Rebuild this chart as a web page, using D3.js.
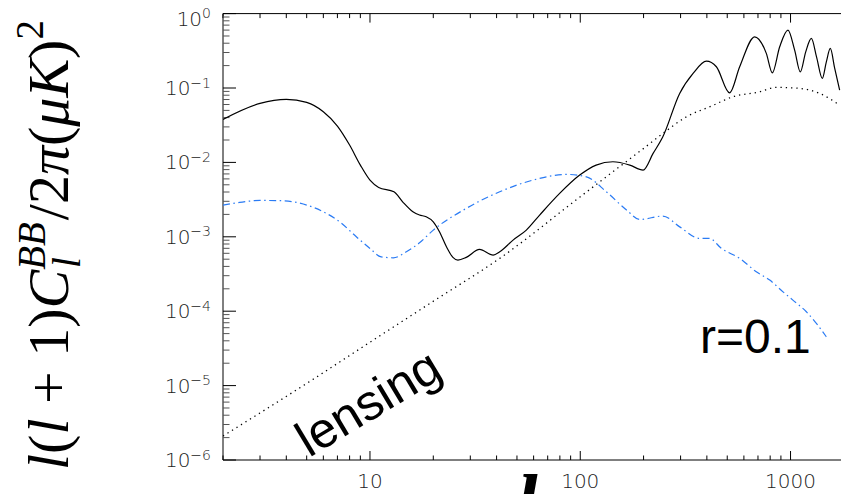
<!DOCTYPE html>
<html>
<head>
<meta charset="utf-8">
<script src="https://cdn.jsdelivr.net/npm/d3@7"></script>
<style>
  html, body { margin: 0; padding: 0; background: #fff; }
  svg { display: block; }
  .tick-label { font-family: "DejaVu Sans", sans-serif; font-weight: 300; fill: #222; }
</style>
</head>
<body>
<div id="chart"></div>
<script>
// Multipole of the total B-mode spectrum (primordial r=0.1 + lensing)
const ellTotal = [2, 3, 4, 5, 6, 7, 8, 9, 10, 11, 13, 14.3, 16, 17.2, 18.5, 20, 21.4, 23.1, 24.8, 26.2,
  28.7, 33.2, 38.5, 41.4, 47.9, 55.4, 64.1, 79.8, 99.4, 119, 143, 172, 199, 222, 247, 297, 344, 398,
  444, 513, 573, 675, 767, 819, 888, 972, 1046, 1113, 1180, 1256, 1330, 1416, 1479, 1546, 1621, 1712];
const clTotal = [0.0379, 0.0621, 0.0703, 0.064, 0.0479, 0.0308, 0.0171, 0.0092, 0.00578, 0.00461,
  0.00403, 0.00295, 0.00217, 0.00196, 0.00186, 0.00159, 0.00117, 0.000734, 0.000529, 0.000486,
  0.000529, 0.000677, 0.000568, 0.000629, 0.000903, 0.00123, 0.00196, 0.00383, 0.00675, 0.0092,
  0.0102, 0.0092, 0.00788, 0.0132, 0.0221, 0.0846, 0.157, 0.230, 0.193, 0.0862, 0.193, 0.488, 0.292,
  0.160, 0.358, 0.600, 0.323, 0.165, 0.304, 0.464, 0.26, 0.135, 0.223, 0.340, 0.185, 0.0937];

// Primordial tensor B-modes, r = 0.1
const ellTensor = [2, 2.4, 3, 3.86, 5, 6, 7.18, 8.61, 10, 11.3, 12.9, 14.9, 17.2, 20, 28.7, 41.4, 59.6,
  85.9, 107, 133, 166, 192, 247, 297, 370, 412, 469, 573, 687, 796, 921, 1026, 1189, 1327, 1479];
const clTensor = [2.67e-3, 2.90e-3, 3.08e-3, 3.05e-3, 2.67e-3, 2.17e-3, 1.59e-3, 1.0e-3, 6.98e-4,
  5.38e-4, 5.22e-4, 6.29e-4, 8.30e-4, 1.23e-3, 2.41e-3, 4.03e-3, 5.78e-3, 6.90e-3, 6.40e-3, 4.03e-3,
  2.29e-3, 1.71e-3, 1.90e-3, 1.36e-3, 9.51e-4, 9.51e-4, 6.98e-4, 5.13e-4, 3.39e-4, 2.62e-4, 1.82e-4,
  1.41e-4, 9.82e-5, 6.85e-5, 4.53e-5];

// Lensing-induced B-modes
const ellLensing = [2, 5, 10, 20, 41.4, 99.4, 150, 200, 247, 320, 420, 532, 713, 856, 1104, 1374, 1712];
const clLensing = [2.1e-6, 1.07e-5, 3.83e-5, 1.36e-4, 5.13e-4, 3.41e-3, 8.3e-3, 0.0154, 0.0245, 0.041,
  0.0571, 0.0762, 0.0889, 0.102, 0.0988, 0.0846, 0.0589];

const xTickValues = [10, 100, 1000];
const xTickLabels = ["10", "100", "1000"];
const yTickExponents = [0, -1, -2, -3, -4, -5, -6];

const W = 841, H = 494;
const plotLeft = 223, plotRight = 840.6, plotTop = 13.6, plotBottom = 460;

const svg = d3.select("#chart").append("svg")
  .attr("width", W).attr("height", H)
  .attr("viewBox", `0 0 ${W} ${H}`);

const x = d3.scaleLog().domain([2, 1730]).range([plotLeft, plotRight]);
const y = d3.scaleLog().domain([1e-6, 1]).range([plotBottom, plotTop]);

svg.append("defs").append("clipPath").attr("id", "plot-clip")
  .append("rect").attr("x", plotLeft).attr("y", plotTop)
  .attr("width", W - plotLeft).attr("height", plotBottom - plotTop);

// minor + major ticks for each decade
function decadeTicks(lo, hi) {
  const out = [];
  for (let e = Math.floor(Math.log10(lo)); e <= Math.ceil(Math.log10(hi)); e++) {
    for (let m = 1; m <= 9; m++) {
      const v = m * Math.pow(10, e);
      if (v >= lo * 0.9999 && v <= hi * 1.0001) out.push({ v, major: m === 1 });
    }
  }
  return out;
}

const axes = svg.append("g").attr("stroke", "#000").attr("stroke-width", 1).attr("fill", "none");

// Frame lines
axes.append("line").attr("x1", plotLeft).attr("x2", plotLeft).attr("y1", plotTop).attr("y2", plotBottom);
axes.append("line").attr("x1", plotLeft).attr("x2", W).attr("y1", plotBottom).attr("y2", plotBottom);
axes.append("line").attr("x1", plotLeft).attr("x2", W).attr("y1", plotTop).attr("y2", plotTop);

// x ticks (bottom, pointing up; top, pointing down)
decadeTicks(2, 1730).forEach(t => {
  const px = x(t.v);
  const len = t.major ? 9 : 4.5;
  axes.append("line").attr("x1", px).attr("x2", px).attr("y1", plotBottom).attr("y2", plotBottom - len);
  axes.append("line").attr("x1", px).attr("x2", px).attr("y1", plotTop).attr("y2", plotTop + len);
});

// y ticks (left, pointing right)
decadeTicks(1e-6, 1).forEach(t => {
  const py = y(t.v);
  const len = t.major ? 13 : 6.5;
  axes.append("line").attr("x1", plotLeft).attr("x2", plotLeft + len).attr("y1", py).attr("y2", py)
    .attr("stroke", t.major ? "#000" : "#555");
});

// x tick labels
xTickValues.forEach((v, i) => {
  svg.append("text").attr("class", "tick-label")
    .attr("x", x(v)).attr("y", 488)
    .attr("text-anchor", "middle").attr("font-size", 20)
    .text(xTickLabels[i]);
});

// y tick labels: 10^n (the top one sits a little lower to stay inside the frame)
yTickExponents.forEach(e => {
  const shift = e === 0 ? 5 : 0;
  const t = svg.append("text").attr("class", "tick-label")
    .attr("x", 211).attr("y", y(Math.pow(10, e)) + 7 + shift)
    .attr("text-anchor", "end").attr("font-size", 20);
  t.append("tspan").text("10");
  t.append("tspan").attr("dy", -7.5).attr("font-size", 14)
    .text(e === 0 ? "0" : "\u2212" + Math.abs(e));
});

const line = d3.line().x(d => x(d[0])).y(d => y(d[1])).curve(d3.curveMonotoneX);
const plot = svg.append("g").attr("clip-path", "url(#plot-clip)").attr("fill", "none");

plot.append("path")
  .datum(d3.zip(ellLensing, clLensing))
  .attr("d", line)
  .attr("stroke", "#000").attr("stroke-width", 1.3)
  .attr("stroke-dasharray", "1.3,4");

plot.append("path")
  .datum(d3.zip(ellTensor, clTensor))
  .attr("d", line)
  .attr("stroke", "#2a7bf4").attr("stroke-width", 1.2)
  .attr("stroke-dasharray", "7,3.5,1.5,3.5");

plot.append("path")
  .datum(d3.zip(ellTotal, clTotal))
  .attr("d", line)
  .attr("stroke", "#000").attr("stroke-width", 1.2);

// Annotations
svg.append("text")
  .attr("x", 700).attr("y", 353)
  .attr("font-family", "Liberation Sans, Arial, sans-serif").attr("font-size", 48)
  .attr("fill", "#000").text("r=0.1");

svg.append("text")
  .attr("transform", "translate(309,458) rotate(-31)")
  .attr("font-family", "Liberation Sans, Arial, sans-serif").attr("font-size", 50)
  .attr("fill", "#000").text("lensing");

// x-axis title (multipole l)
svg.append("text")
  .attr("x", 516).attr("y", 528)
  .attr("font-family", "Liberation Serif, Times New Roman, serif")
  .attr("font-style", "italic").attr("font-weight", "bold")
  .attr("font-size", 78).attr("fill", "#000").text("l");

// y-axis title: l(l+1) C_l^BB / 2π (μK)^2
const yTitle = svg.append("text")
  .attr("transform", "translate(68,470) rotate(-90)")
  .attr("font-family", "Liberation Serif, Times New Roman, serif")
  .attr("font-size", 58).attr("fill", "#000");
yTitle.append("tspan").attr("font-style", "italic").text("l");
yTitle.append("tspan").text("(");
yTitle.append("tspan").attr("font-style", "italic").text("l");
yTitle.append("tspan").text(" + 1)");
yTitle.append("tspan").attr("font-style", "italic").text("C");
yTitle.append("tspan").attr("font-style", "italic").attr("font-size", 39).attr("dy", -23).text("BB");
yTitle.append("tspan").attr("font-style", "italic").attr("font-size", 39).attr("dx", -46).attr("dy", 35).text("l");
yTitle.append("tspan").attr("dx", 37).attr("dy", -12).text("/2");
yTitle.append("tspan").attr("font-style", "italic").text("\u03c0");
yTitle.append("tspan").text("(");
yTitle.append("tspan").attr("font-style", "italic").text("\u03bcK");
yTitle.append("tspan").text(")");
yTitle.append("tspan").attr("font-size", 39).attr("dy", -25).text("2");
</script>
</body>
</html>
